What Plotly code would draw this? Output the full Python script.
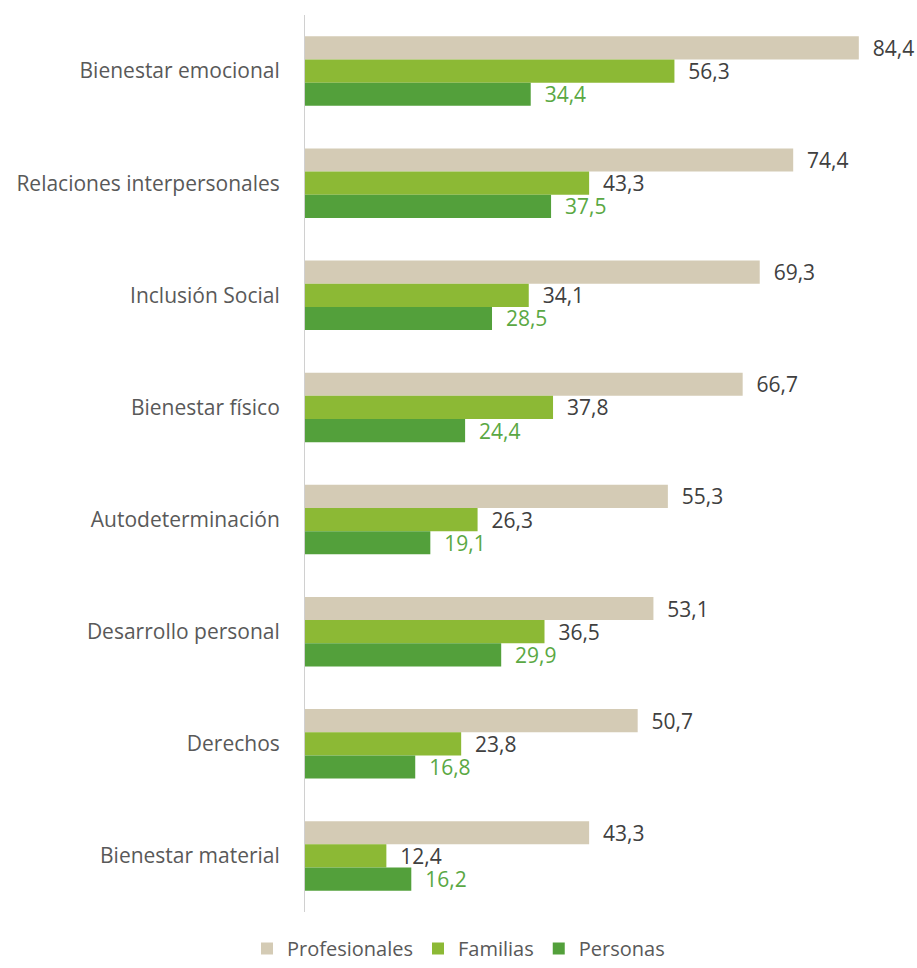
import plotly.graph_objects as go

categories = ["Bienestar emocional", "Relaciones interpersonales", "Inclusión Social",
              "Bienestar físico", "Autodeterminación", "Desarrollo personal",
              "Derechos", "Bienestar material"]
profesionales = [84.4, 74.4, 69.3, 66.7, 55.3, 53.1, 50.7, 43.3]
familias = [56.3, 43.3, 34.1, 37.8, 26.3, 36.5, 23.8, 12.4]
personas = [34.4, 37.5, 28.5, 24.4, 19.1, 29.9, 16.8, 16.2]

series = [
    ("Profesionales", profesionales, "#d4cbb5", "#404040"),
    ("Familias", familias, "#8cb935", "#404040"),
    ("Personas", personas, "#53a03b", "#5aa843"),
]

FONT = "Open Sans"
fig = go.Figure()
for name, vals, color, tcolor in series:
    fig.add_trace(go.Bar(
        name=name, y=categories, x=vals, orientation="h",
        marker=dict(color=color, line=dict(width=0)),
        texttemplate="\u00a0\u00a0%{x:.1f}", textposition="outside",
        textfont=dict(family=FONT, size=21, color=tcolor),
        cliponaxis=False, constraintext="none",
    ))

fig.update_layout(
    width=917, height=968,
    margin=dict(l=305, r=7, t=15, b=56, autoexpand=False),
    paper_bgcolor="white", plot_bgcolor="white",
    barmode="group", bargap=0.38, bargroupgap=0,
    separators=",.",
    font=dict(family=FONT, size=21, color="#595959"),
    xaxis=dict(range=[0, 92.2], showgrid=False, showticklabels=False,
               zeroline=False, showline=False, ticks="", automargin=False),
    yaxis=dict(autorange="reversed", showgrid=False, showline=True,
               linecolor="#d0d0d0", linewidth=1, ticks="", automargin=False,
               ticklabelstandoff=20, tickfont=dict(family=FONT, size=21, color="#595959")),
    legend=dict(orientation="h", xref="container", yref="container",
                x=0.5, xanchor="center", y=0.0, yanchor="bottom",
                font=dict(family=FONT, size=20, color="#595959"),
                itemwidth=30, traceorder="normal"),
    showlegend=True,
)

fig.write_html("out.html")
